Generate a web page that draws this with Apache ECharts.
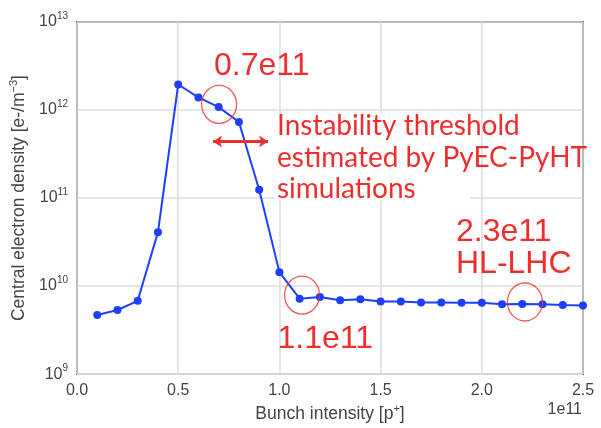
<!DOCTYPE html>
<html>
<head>
<meta charset="utf-8">
<script src="https://cdn.jsdelivr.net/npm/echarts@6/dist/echarts.min.js"></script>
<style>html,body{margin:0;padding:0;background:#fff}#c{width:601px;height:428px}</style>
</head>
<body>
<div id="c"></div>
<script>
// Bunch intensity (x 1e11)
const intensity = [0.1,0.2,0.3,0.4,0.5,0.6,0.7,0.8,0.9,1.0,1.1,1.2,1.3,1.4,1.5,1.6,1.7,1.8,1.9,2.0,2.1,2.2,2.3,2.4,2.5];
// Central electron density [e-/m^-3]
const density = [4.7e9,5.35e9,6.8e9,4.1e10,1.95e12,1.39e12,1.08e12,7.3e11,1.24e11,1.44e10,7.2e9,7.5e9,6.9e9,7.1e9,6.7e9,6.7e9,6.5e9,6.5e9,6.45e9,6.45e9,6.2e9,6.25e9,6.2e9,6.08e9,6.0e9];
// Highlighted circles (annotation centres)
const circleX = [0.702, 1.112, 2.213];
const circleY = [1.16e12, 7.9e9, 6.6e9];
// Threshold arrow
const arrowX = [0.672, 0.944];
const arrowY = 4.39e11;
const xTicks = ['0.0','0.5','1.0','1.5','2.0','2.5'];

const red = '#ee2d2d';
const grey = '#444';
const chart = echarts.init(document.getElementById('c'));
const sup = {
  a: {fontSize: 16, color: grey, fontFamily: 'Liberation Sans'},
  b: {fontSize: 10, color: grey, fontFamily: 'Liberation Sans', padding: [0,0,12,0]}
};
const nameRich = {
  a: {fontSize: 17.5, color: grey, fontFamily: 'Liberation Sans'},
  b: {fontSize: 11, color: grey, fontFamily: 'Liberation Sans', padding: [0,0,11,0]}
};
chart.setOption({
  animation: false,
  grid: {left: 77, right: 18, top: 22, bottom: 46.5, show: true, borderColor: '#555', borderWidth: 2},
  xAxis: {
    type: 'value', min: 0, max: 2.5, interval: 0.5,
    axisLine: {show: false}, axisTick: {show: false},
    splitLine: {lineStyle: {color: '#dcdcdc', width: 1.5}},
    axisLabel: {margin: 8, fontSize: 16, color: grey, fontFamily: 'Liberation Sans',
      formatter: v => xTicks[Math.round(v / 0.5)]},
    name: '{a|Bunch intensity [p}{b|+}{a|]}',
    nameLocation: 'middle', nameGap: 26,
    nameTextStyle: {rich: nameRich}
  },
  yAxis: {
    type: 'log', logBase: 10, min: 1e9, max: 1e13,
    axisLine: {show: false}, axisTick: {show: false},
    splitLine: {lineStyle: {color: '#dcdcdc', width: 1.5}},
    minorTick: {show: false},
    axisLabel: {margin: 9, formatter: v => '{a|10}{b|' + Math.round(Math.log10(v)) + '}', rich: sup},
    name: '{a|Central electron density [e-/m}{b|−3}{a|]}',
    nameLocation: 'middle', nameGap: 44, nameRotate: 90,
    nameTextStyle: {rich: nameRich}
  },
  series: [
    {
      type: 'line', data: intensity.map((x, i) => [x, density[i]]),
      symbol: 'circle', symbolSize: 8,
      lineStyle: {color: '#1f3fff', width: 2},
      itemStyle: {color: '#1f3fff'},
      markLine: {
        silent: true, symbol: ['arrow', 'arrow'], symbolSize: [9, 9],
        lineStyle: {color: red, width: 3, type: 'solid'},
        label: {show: false},
        data: [[{coord: [arrowX[0], arrowY]}, {coord: [arrowX[1], arrowY]}]]
      }
    },
    {
      type: 'scatter', data: circleX.map((x, i) => [x, circleY[i]]),
      symbol: 'circle', symbolSize: [35, 38], z: 5,
      itemStyle: {color: 'rgba(0,0,0,0)', borderColor: red, borderWidth: 1.3}
    }
  ],
  graphic: [
    {type: 'rect', z: 1, left: 275, top: 113, shape: {width: 195, height: 87.5}, style: {fill: '#fff'}},
    {type: 'text', z: 10, left: 214, top: 50.5, style: {text: '0.7e11', fontSize: 32, fill: red, fontFamily: 'Liberation Sans'}},
    {type: 'text', z: 10, left: 277, top: 110.7, style: {text: 'Instability threshold\nestimated by PyEC-PyHT\nsimulations', fontSize: 28, lineHeight: 31.2, fill: red, fontFamily: 'Lato'}},
    {type: 'text', z: 10, left: 277.5, top: 323, style: {text: '1.1e11', fontSize: 32, fill: red, fontFamily: 'Liberation Sans'}},
    {type: 'text', z: 10, left: 456, top: 216.4, style: {text: '2.3e11\nHL-LHC', fontSize: 32, lineHeight: 31.7, fill: red, fontFamily: 'Liberation Sans'}},
    {type: 'text', z: 10, right: 19, top: 402, style: {text: '1e11', fontSize: 16, fill: grey, fontFamily: 'Liberation Sans'}}
  ]
});
</script>
</body>
</html>
